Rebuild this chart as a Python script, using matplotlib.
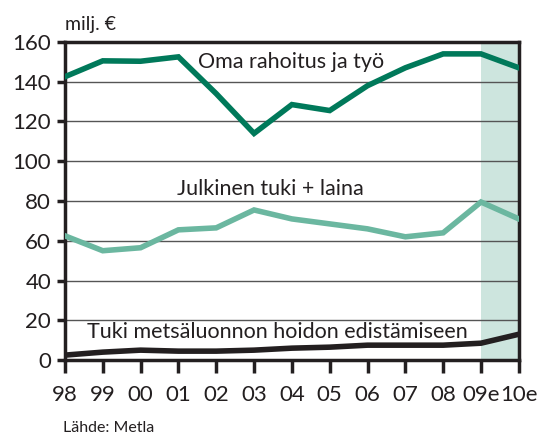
import matplotlib.pyplot as plt
import numpy as np

plt.rcParams['font.family'] = ['Lato', 'DejaVu Sans']

#--DATA--#
years = ["98", "99", "00", "01", "02", "03", "04", "05", "06", "07", "08", "09e", "10e"]
oma = [142.5, 150.5, 150.3, 152.5, 134, 114, 128.5, 125.5, 138, 147, 154, 154, 147]
julkinen = [62.5, 55, 56.5, 65.5, 66.5, 75.5, 71, 68.5, 66, 62, 64, 79.5, 71]
tuki = [2.5, 4, 5, 4.5, 4.5, 5, 6, 6.5, 7.5, 7.5, 7.5, 8.5, 13]
#----#

x = np.arange(len(years))

fig = plt.figure(figsize=(5.41, 4.37), dpi=100)
ax = fig.add_axes([0.120, 0.176, 0.839, 0.728])

# estimate shading
ax.axvspan(x[-2], x[-1], color="#cde5de", lw=0, zorder=0)

for yv in range(20, 160, 20):
    ax.axhline(yv, color="#555555", lw=1, zorder=1)

ax.plot(x, oma, color="#00795a", lw=4, zorder=3, solid_joinstyle="miter")
ax.plot(x, julkinen, color="#6bb7a0", lw=4, zorder=3, solid_joinstyle="miter")
ax.plot(x, tuki, color="#231f20", lw=4, zorder=3, solid_joinstyle="miter")

ax.text(5.97, 150, "Oma rahoitus ja työ", fontsize=15.5, color="#231f20", ha="center", va="center")
ax.text(5.42, 86, "Julkinen tuki + laina", fontsize=15.5, color="#231f20", ha="center", va="center")
ax.text(5.63, 14, "Tuki metsäluonnon hoidon edistämiseen", fontsize=15.5, color="#231f20", ha="center", va="center")

ax.set_xlim(x[0], x[-1])
ax.set_ylim(0, 160)
ax.set_xticks(x)
ax.set_xticklabels(years)
ax.set_yticks(range(0, 161, 20))

for s in ax.spines.values():
    s.set_linewidth(2.5)
    s.set_color("#231f20")

ax.tick_params(axis="x", direction="out", length=9, width=2.5, labelsize=16, pad=9, colors="#231f20")
ax.tick_params(axis="y", direction="out", length=6, width=2.5, labelsize=16, pad=4, colors="#231f20")

fig.text(0.120, 0.945, "milj. €", fontsize=14, color="#231f20", ha="left", va="center")
fig.text(0.117, 0.004, "Lähde: Metla", fontsize=11.5, color="#231f20", ha="left", va="bottom")

plt.savefig("out.png", dpi=100)
